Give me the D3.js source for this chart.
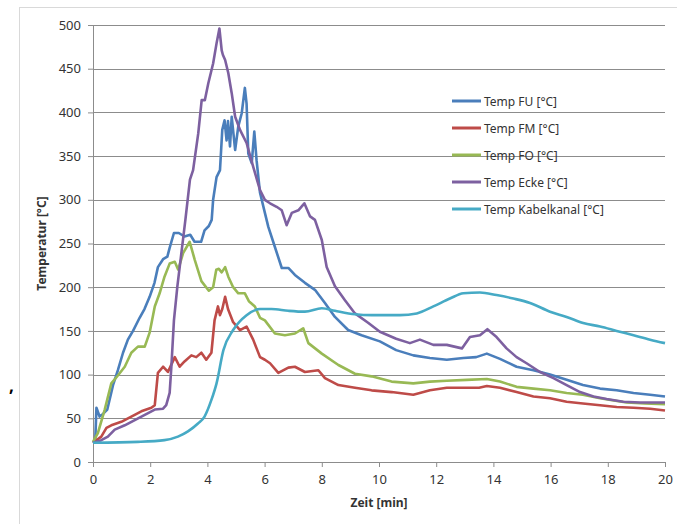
<!DOCTYPE html>
<html>
<head>
<meta charset="utf-8">
<script src="https://cdn.jsdelivr.net/npm/d3@7"></script>
<style>
  body { margin: 0; background: #fff; }
  text { font-family: "Noto Sans", sans-serif; fill: #333; }
</style>
</head>
<body>
<svg id="chart" width="677" height="524"></svg>
<script>
// Werte: [Zeit in min, Temperatur in °C]
const tempFU = [[0,22],[0.08,25],[0.12,62],[0.23,52],[0.35,55],[0.5,60],[0.7,88],[0.87,105],[1.05,125],[1.22,140],[1.4,150],[1.63,165],[1.8,175],[1.98,189],[2.15,205],[2.27,223],[2.45,232],[2.6,235],[2.68,245],[2.83,262],[3.0,262],[3.2,258],[3.4,260],[3.55,252],[3.78,252],[3.9,265],[4.05,270],[4.15,277],[4.2,300],[4.32,326],[4.44,334],[4.52,380],[4.6,391],[4.67,368],[4.72,390],[4.79,361],[4.85,395],[4.97,357],[5.08,384],[5.2,399],[5.31,428],[5.37,410],[5.43,353],[5.55,342],[5.64,378],[5.72,345],[5.84,308],[6.01,285],[6.13,269],[6.36,246],[6.6,222],[6.83,222],[7.06,214],[7.41,205],[7.76,197],[8.11,182],[8.46,166],[8.92,151],[9.39,145],[10.03,138],[10.6,128],[11.2,122],[11.78,119],[12.37,117],[12.95,119],[13.4,120],[13.77,124],[14.23,118],[14.81,109],[15.4,105],[15.98,100],[16.56,94],[17.13,88],[17.73,84],[18.31,82],[18.9,79],[19.48,77],[20,75]];
const tempFM = [[0,22],[0.29,29],[0.47,39],[0.64,42],[0.99,46],[1.34,52],[1.69,58],[2.04,62],[2.16,65],[2.27,102],[2.45,109],[2.62,103],[2.86,120],[3.03,109],[3.2,115],[3.44,122],[3.61,120],[3.79,125],[3.96,117],[4.14,125],[4.25,162],[4.37,178],[4.44,168],[4.52,175],[4.62,189],[4.72,175],[4.9,160],[5.14,151],[5.37,155],[5.6,140],[5.84,120],[6.01,117],[6.19,113],[6.48,102],[6.83,108],[7.06,109],[7.41,103],[7.88,105],[8.11,96],[8.58,88],[9.16,85],[9.74,82],[10.44,80],[11.2,77],[11.78,82],[12.37,85],[12.95,85],[13.5,85],[13.77,87],[14.23,85],[14.81,80],[15.4,75],[15.98,73],[16.56,69],[17.13,67],[17.73,65],[18.31,63],[18.9,62],[19.48,61],[20,59]];
const tempFO = [[0,23],[0.17,33],[0.41,60],[0.64,90],[0.87,99],[1.11,109],[1.34,125],[1.57,132],[1.81,132],[1.98,148],[2.16,178],[2.33,193],[2.5,212],[2.68,227],[2.86,229],[2.98,220],[3.15,239],[3.38,252],[3.56,231],[3.79,207],[4.05,196],[4.2,200],[4.31,220],[4.4,221],[4.5,217],[4.62,223],[4.73,212],[4.9,200],[5.08,193],[5.31,193],[5.45,184],[5.66,178],[5.84,165],[6.01,162],[6.36,147],[6.71,145],[7.06,147],[7.35,153],[7.53,136],[8.0,124],[8.58,111],[9.16,101],[9.74,98],[10.44,92],[11.2,90],[11.78,92],[12.37,93],[13.07,94],[13.77,95],[14.23,92],[14.81,86],[15.4,84],[15.98,82],[16.56,79],[17.13,77],[17.73,73],[18.1,71],[18.66,68],[19.3,67],[20,66]];
const tempEcke = [[0,22],[0.29,25],[0.52,29],[0.76,37],[1.11,42],[1.46,48],[1.81,54],[2.16,60],[2.45,61],[2.56,65],[2.68,79],[2.74,109],[2.83,162],[2.95,201],[3.09,239],[3.23,277],[3.39,323],[3.5,334],[3.68,376],[3.8,414],[3.91,414],[4.03,433],[4.2,456],[4.32,479],[4.42,496],[4.5,471],[4.54,466],[4.62,460],[4.73,445],[4.85,422],[4.97,395],[5.14,380],[5.37,365],[5.6,338],[5.84,311],[6.01,300],[6.19,296],[6.42,292],[6.6,288],[6.77,271],[6.95,285],[7.18,288],[7.39,296],[7.59,281],[7.76,277],[8.0,254],[8.17,223],[8.46,201],[8.81,185],[9.16,170],[9.63,159],[10.03,149],[10.6,141],[11.08,136],[11.43,140],[11.9,134],[12.37,134],[12.9,130],[13.18,143],[13.53,145],[13.79,152],[14.11,143],[14.46,130],[14.81,120],[15.16,113],[15.63,103],[16.1,96],[16.56,88],[17.03,80],[17.5,75],[17.96,72],[18.54,69],[19.13,68],[20,68]];
const tempKabel = [[0,22],[1.57,23],[2.5,25],[2.97,29],[3.32,35],[3.67,44],[3.9,52],[4.14,71],[4.32,90],[4.56,128],[4.9,151],[5.37,168],[5.84,175],[6.24,175],[6.83,173],[7.41,172],[8.0,176],[8.46,173],[9.16,169],[9.74,168],[10.73,168],[11.32,170],[11.9,178],[12.48,187],[12.95,193],[13.53,194],[14.11,191],[14.7,187],[15.28,182],[15.98,172],[16.56,166],[17.14,159],[17.73,155],[18.31,150],[18.9,145],[19.48,140],[20,136]];

const seriesNames = ["Temp FU [°C]", "Temp FM [°C]", "Temp FO [°C]", "Temp Ecke [°C]", "Temp Kabelkanal [°C]"];
const seriesData = [tempFU, tempFM, tempFO, tempEcke, tempKabel];
const seriesColors = ["#4a7ebb", "#be4b48", "#98b954", "#7d60a0", "#46aac5"];
const xTicks = d3.range(0, 21, 2);
const yTicks = d3.range(0, 501, 50);

const margin = { top: 25, right: 12, bottom: 62, left: 93 };
const width = 677 - margin.left - margin.right;
const height = 524 - margin.top - margin.bottom;

const svg = d3.select("#chart");

// äußerer Rahmen (nur oben und links sichtbar)
svg.append("rect")
  .attr("x", 19.5).attr("y", 7.5)
  .attr("width", 700).attr("height", 600)
  .attr("fill", "none").attr("stroke", "#d9d9d9");

svg.append("text")
  .attr("x", 9).attr("y", 392)
  .style("font-size", "17px").style("font-weight", "bold").style("fill", "#000")
  .text(",");

const g = svg.append("g").attr("transform", `translate(${margin.left},${margin.top})`);

const x = d3.scaleLinear().domain([0, 20]).range([0, width]);
const y = d3.scaleLinear().domain([0, 500]).range([height, 0]);

// Gitterlinien
g.append("g")
  .selectAll("line")
  .data(yTicks.filter(d => d > 0))
  .join("line")
  .attr("x1", 0).attr("x2", width)
  .attr("y1", d => Math.round(y(d)) + 0.5).attr("y2", d => Math.round(y(d)) + 0.5)
  .attr("stroke", "#8c8c8c").attr("stroke-width", 1);

const xAxis = g.append("g")
  .attr("transform", `translate(0,${height})`)
  .call(d3.axisBottom(x).tickValues(xTicks).tickSize(5).tickPadding(8));
const yAxis = g.append("g")
  .call(d3.axisLeft(y).tickValues(yTicks).tickSize(5).tickPadding(7));

[xAxis, yAxis].forEach(a => {
  a.selectAll("path, line").attr("stroke", "#8c8c8c");
  a.selectAll("text").style("font-size", "13px").style("font-family", "Noto Sans").attr("fill", "#333");
});

const line = d3.line().x(d => x(d[0])).y(d => y(d[1]));
// Kabelkanal verläuft glatt
const smoothLine = d3.line().x(d => x(d[0])).y(d => y(d[1])).curve(d3.curveMonotoneX);

g.append("g")
  .selectAll("path")
  .data(seriesData)
  .join("path")
  .attr("d", (d, i) => (i === 4 ? smoothLine(d) : line(d)))
  .attr("fill", "none")
  .attr("stroke", (d, i) => seriesColors[i])
  .attr("stroke-width", 2.6)
  .attr("stroke-linejoin", "round");

// Achsentitel
svg.append("text")
  .attr("x", margin.left + width / 2).attr("y", 507)
  .attr("text-anchor", "middle")
  .style("font-size", "12px").style("font-weight", "bold")
  .text("Zeit [min]");

svg.append("text")
  .attr("transform", `translate(46,${margin.top + height / 2}) rotate(-90)`)
  .attr("text-anchor", "middle")
  .style("font-size", "12px").style("font-weight", "bold")
  .text("Temperatur [°C]");

// Legende
const legend = svg.append("g")
  .selectAll("g")
  .data(seriesNames)
  .join("g")
  .attr("transform", (d, i) => `translate(452,${101 + i * 27})`);

legend.append("line")
  .attr("x1", 0).attr("x2", 29)
  .attr("stroke", (d, i) => seriesColors[i])
  .attr("stroke-width", 3);

legend.append("text")
  .attr("x", 32).attr("y", 4.5)
  .style("font-size", "12px")
  .text(d => d);
</script>
</body>
</html>
